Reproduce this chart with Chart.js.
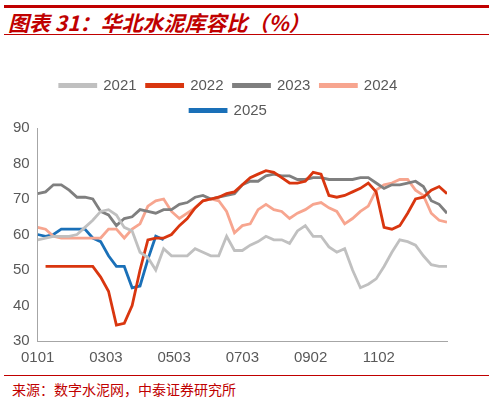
<!DOCTYPE html>
<html>
<head>
<meta charset="utf-8">
<script src="https://cdn.jsdelivr.net/npm/chart.js@4"></script>
<style>
  body { margin: 0; background: #fff; width: 493px; height: 400px; position: relative; overflow: hidden; }
  #title { position: absolute; left: 4px; top: 5px; width: 485px; border-top: 3px solid #c00000; border-bottom: 1px solid #c00000;
    color: #c00000; font: italic bold 21px "Noto Sans CJK SC", sans-serif; line-height: 28px; padding-left: 4px; box-sizing: border-box; height: 30px; }
  #wrap { position: absolute; left: 0; top: 68px; width: 493px; height: 302px; }
  #foot { position: absolute; left: 4px; top: 375px; width: 485px; border-top: 1px solid #c00000;
    color: #c00000; font: 14px "Noto Sans CJK SC", sans-serif; padding: 3px 0 0 8px; box-sizing: border-box; }
</style>
</head>
<body>
<div id="title">图表 31：华北水泥库容比（%）</div>
<div id="wrap"><canvas id="c"></canvas></div>
<div id="foot">来源：数字水泥网，中泰证券研究所</div>
<script>
// weekly values, week 0..52
var tickLabels = ['0101', '', '0303', '', '0503', '', '0703', '', '0902', '', '1102', '', ''];
var y2021 = [58.5,59,59.5,59.5,59.5,60,62,64,66.5,67,65.5,62,61,55,53.5,50,56,54,54,54,56,55,54,54,59.5,55.5,55.5,57,58,59.5,58.5,58.5,57.5,61,62.5,59.5,59.5,56.5,55,56,50,45,46,47.5,51,55,58.5,58,57,54,51.5,51,51];
var y2022 = [null,51,51,51,51,51,51,51,48,44,34.5,35,40,50,58.5,59,59,60,62.5,64.5,67.5,69.5,70,70.5,71.5,72,74,76,77,78,77.5,76,74.5,74.5,75,77.5,77,71,70.5,71,72,73,74.5,72,62,61.5,62.5,66,70,70.5,72.5,73.5,71.5];
var y2023 = [71.5,72,74,74,72.5,70.5,70.5,70,66.5,65.5,62.5,64.5,65,67,66.5,66,67,67,68.5,69,70.5,71,70,70.5,71,71.5,74,75,75,76.5,77,76.5,76.5,75.5,75.5,76,76,75.5,75.5,75.5,75.5,76,76,74.5,73,74,74,74.5,75,73.5,69.5,68.5,66];
var y2024 = [62,61.5,59.5,59,59,59,59,59,59,61.5,61.5,59,61.5,63,68,69.5,70,66.5,64.5,66,67.5,69.5,70,69.5,66.5,60.5,62.5,63,67,68.5,67,66.5,64.5,66,67,68.5,69,67.5,66.5,63,64.5,66.5,68,72.5,74,74.5,75.5,75.5,72.5,71,66,64,63.5];
var y2025 = [60,59.5,60,61.5,61.5,61.5,61.5,59,58,54,51,51,45,45.5,53,59.5,58.5];

function pts(arr) {
  return arr.map(function (v, i) { return { x: i * 12 / 52, y: v }; });
}
function ds(label, arr, color) {
  return { label: label, data: pts(arr), borderColor: color, backgroundColor: color,
    borderWidth: 2.8, pointRadius: 0, tension: 0, spanGaps: false };
}

new Chart(document.getElementById('c'), {
  type: 'line',
  data: {
    datasets: [
      ds('2021', y2021, '#c0c0c0'),
      ds('2022', y2022, '#d9360f'),
      ds('2023', y2023, '#7f7f7f'),
      ds('2024', y2024, '#f7a58f'),
      ds('2025', y2025, '#1a70b8')
    ]
  },
  options: {
    responsive: true,
    maintainAspectRatio: false,
    animation: false,
    layout: { padding: { left: 10, right: 46, top: 0, bottom: 0 } },
    plugins: {
      legend: {
        position: 'top',
        labels: { boxWidth: 36, boxHeight: 2, color: '#595959', font: { family: 'Liberation Sans', size: 15 }, padding: 10 }
      },
      tooltip: { enabled: false }
    },
    scales: {
      x: {
        type: 'linear', min: 0, max: 12,
        grid: { display: false, drawTicks: true, tickLength: 5, tickColor: '#a6a6a6' },
        border: { color: '#a6a6a6' },
        ticks: { stepSize: 1, autoSkip: false, maxRotation: 0, color: '#595959', font: { family: 'Liberation Sans', size: 15 },
          callback: function (v) { return tickLabels[v] || ''; } }
      },
      y: {
        min: 30, max: 90,
        grid: { display: false, tickLength: 5, tickColor: '#a6a6a6' },
        border: { color: '#a6a6a6' },
        ticks: { stepSize: 10, color: '#595959', font: { family: 'Liberation Sans', size: 15 } }
      }
    }
  }
});
</script>
</body>
</html>
